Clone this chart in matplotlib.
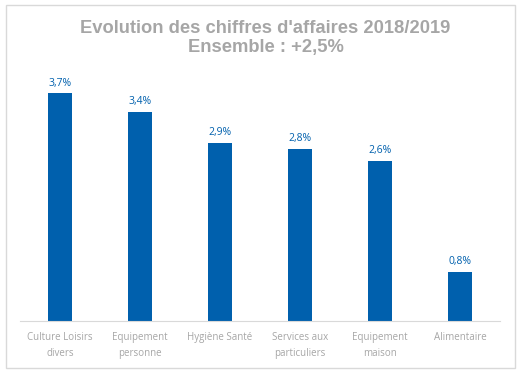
import matplotlib
matplotlib.use("Agg")
import matplotlib.pyplot as plt
from matplotlib.patches import Rectangle

categories = ["Culture Loisirs\ndivers", "Equipement\npersonne", "Hygiène Santé",
              "Services aux\nparticuliers", "Equipement\nmaison", "Alimentaire"]
values = [3.7, 3.4, 2.9, 2.8, 2.6, 0.8]
labels = ["3,7%", "3,4%", "2,9%", "2,8%", "2,6%", "0,8%"]
title = "Evolution des chiffres d'affaires 2018/2019\nEnsemble : +2,5%"

W, H = 531, 374
fig = plt.figure(figsize=(W / 100, H / 100), dpi=100)
fig.patches.append(Rectangle((6 / W, 1 - 368 / H), 509 / W, 363 / H, transform=fig.transFigure,
                             fill=False, edgecolor="#D9D9D9", linewidth=1.0))

ax = fig.add_axes([20 / W, 1 - 321 / H, 480 / W, (321 - 75) / H])
x = range(len(categories))
ax.bar(x, values, width=0.31, color="#0060AD")
ax.set_xlim(-0.5, len(categories) - 0.5)
ax.set_ylim(0, 4.0)
for xi, v, lab in zip(x, values, labels):
    ax.annotate(lab, (xi, v), xytext=(0, 3.5), textcoords="offset points", ha="center", va="bottom",
                color="#0060AD", fontsize=7.5, family="Open Sans")
ax.set_xticks(list(x))
ax.set_xticklabels(categories, color="#A6A6A6", fontsize=7, family="Open Sans", linespacing=1.55)
ax.tick_params(axis="x", length=0, pad=8)
ax.set_yticks([])
for s in ["top", "left", "right"]:
    ax.spines[s].set_visible(False)
ax.spines["bottom"].set_color("#D9D9D9")

fig.text(0.5, 1 - 38 / H, title, ha="center", va="center", fontsize=13.2, fontweight="bold",
         color="#A6A6A6", family="Liberation Sans", linespacing=1.1)

fig.savefig("out.png", dpi=100)
